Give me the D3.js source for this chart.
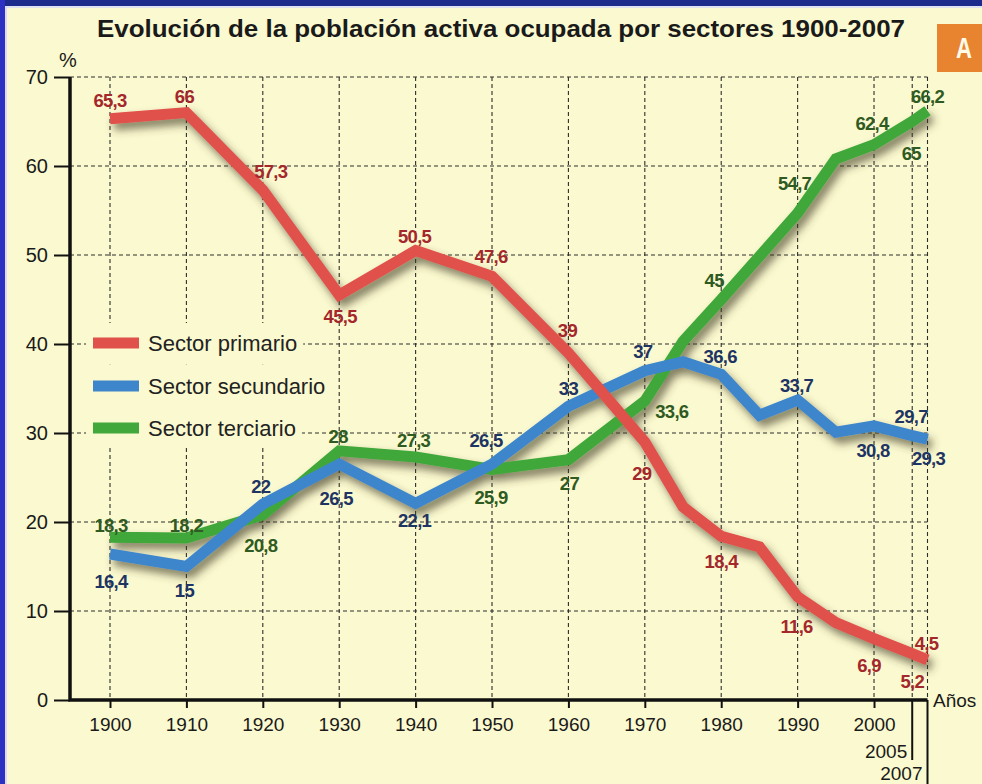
<!DOCTYPE html>
<html>
<head>
<meta charset="utf-8">
<script src="https://cdn.jsdelivr.net/npm/d3@7"></script>
<style>
  body { margin: 0; background: #fbf9cf; }
  svg { display: block; font-family: "Liberation Sans", Arial, sans-serif; }
</style>
</head>
<body>
<svg id="chart" width="982" height="784"></svg>
<script>
// data (null = no point drawn for that year)
const years      = [1900, 1910, 1920, 1930, 1940, 1950, 1960, 1970, 1975, 1980, 1985, 1990, 1995, 2000, 2005, 2007]
const primario   = [65.3, 66,   57.3, 45.5, 50.5, 47.6, 39,   29,   21.7, 18.4, 17.2, 11.6, 8.7,  6.9,  5.2,  4.5]
const secundario = [16.4, 15,   22,   26.5, 22.1, 26.5, 33,   37,   38,   36.6, 32,   33.7, 30.1, 30.8, 29.7, 29.3]
const terciario  = [18.3, 18.2, 20.8, 28,   27.3, 25.9, 27,   33.6, 40.3, 45,   null, 54.7, 60.8, 62.4, 65,   66.2]

const labelYears = [1900, 1910, 1920, 1930, 1940, 1950, 1960, 1970, 1980, 1990, 2000, 2005, 2007]
const decadeTicks = [1900, 1910, 1920, 1930, 1940, 1950, 1960, 1970, 1980, 1990, 2000]
const extraTicks = [2005, 2007]
const yTicks = [0, 10, 20, 30, 40, 50, 60, 70]

const seriesNames = ["Sector primario", "Sector secundario", "Sector terciario"]
const title = "Evolución de la población activa ocupada por sectores 1900-2007"

// label offsets (dx, dy to baseline) for each labelled year, per series
const offPrimario   = [[0,-12],[-2,-10],[8,-12],[1,28],[-1,-8],[-1,-13],[-1,-16],[-3,38],[0,32],[-1,36],[-5,33],[0,34],[-1,-10]]
const offSecundario = [[1,34],[-2,30],[-2,-11],[-3,41],[-1,24],[-6,-17],[0,-11],[-2,-13],[-1,-11],[-1,-8],[-1,31],[-1,-13],[1,26]]
const offTerciario  = [[1,-5],[0,-6],[-2,37],[-1,-8],[-2,-10],[-1,35],[1,30],[27,17],[-7,-13],[-3,-23],[-2,-15],[-1,38],[0,-8]]

const lineColors  = ["#e0514b", "#3d86cc", "#41a83b"]
const labelColors = ["#a3282c", "#1e3462", "#2f5b22"]

const W = 982, H = 784
const axisX = 70
const bg = "#fbf9cf"

const x = d3.scaleLinear().domain([1900, 2007]).range([110, 927.5])
const y = d3.scaleLinear().domain([0, 70]).range([700, 77])

const svg = d3.select("#chart")

const defs = svg.append("defs")
defs.append("filter")
  .attr("id", "shadow")
  .attr("filterUnits", "userSpaceOnUse")
  .attr("x", 0).attr("y", 0).attr("width", W).attr("height", H)
  .append("feDropShadow")
  .attr("dx", 4).attr("dy", 6)
  .attr("stdDeviation", 4)
  .attr("flood-color", "#3e3820")
  .attr("flood-opacity", 0.65)

svg.append("rect").attr("width", W).attr("height", H).attr("fill", bg)

// scan border
svg.append("rect").attr("width", W).attr("height", 6).attr("fill", "#1d2b8c")
svg.append("rect").attr("y", 6).attr("width", W).attr("height", 2).attr("fill", "#dfe2f2")
svg.append("rect").attr("width", 5).attr("height", H).attr("fill", "#2d32c2")
svg.append("rect").attr("x", 5).attr("y", 6).attr("width", 2).attr("height", H).attr("fill", "#dcdcf4")

// title and badge
svg.append("text")
  .attr("x", 97).attr("y", 37)
  .attr("textLength", 808).attr("lengthAdjust", "spacingAndGlyphs")
  .attr("font-size", 24).attr("font-weight", "bold").attr("fill", "#1a1a1a")
  .text(title)

svg.append("rect").attr("x", 937).attr("y", 24).attr("width", 45).attr("height", 48).attr("fill", "#e8832f")
svg.append("text")
  .attr("x", 964).attr("y", 58).attr("text-anchor", "middle")
  .attr("font-size", 30).attr("font-weight", "bold").attr("fill", "#fffbe8")
  .attr("textLength", 16).attr("lengthAdjust", "spacingAndGlyphs")
  .text("A")

// grid
const grid = svg.append("g")
  .attr("stroke", "#2e2e2e").attr("stroke-width", 1.1).attr("stroke-dasharray", "4 3")

grid.selectAll("line.h")
  .data(yTicks.filter(d => d > 0))
  .join("line")
  .attr("class", "h")
  .attr("x1", axisX).attr("x2", x(2007))
  .attr("y1", d => y(d)).attr("y2", d => y(d))

grid.selectAll("line.v")
  .data(decadeTicks.concat(extraTicks))
  .join("line")
  .attr("class", "v")
  .attr("x1", d => x(d)).attr("x2", d => x(d))
  .attr("y1", y(70)).attr("y2", y(0))

// legend (its own background hides the grid behind it)
const legendRows = [343, 386, 428]
const legend = svg.append("g")
seriesNames.forEach((name, i) => {
  const g = legend.append("g")
  const bgRect = g.append("rect").attr("fill", bg)
  const t = g.append("text")
    .attr("x", 148).attr("y", legendRows[i] + 8)
    .attr("font-size", 22).attr("fill", "#222")
    .text(name)
  const w = t.node().getComputedTextLength()
  const top = i === 0 ? 323 : (legendRows[i - 1] + legendRows[i]) / 2
  const bottom = i === 2 ? 446 : (legendRows[i] + legendRows[i + 1]) / 2
  bgRect.attr("x", 86).attr("y", top).attr("width", 148 + w + 6 - 86).attr("height", bottom - top)
  g.append("rect")
    .attr("x", 93).attr("y", legendRows[i] - 5.5)
    .attr("width", 46).attr("height", 11)
    .attr("fill", lineColors[i])
})

// series lines
const seriesValues = [primario, secundario, terciario]
const line = d3.line()
  .x(d => x(d[0]))
  .y(d => y(d[1]))

const lines = svg.append("g").attr("filter", "url(#shadow)")
// green at the bottom, red on top
;[2, 1, 0].forEach(i => {
  const pts = years.map((yr, j) => [yr, seriesValues[i][j]]).filter(d => d[1] !== null)
  lines.append("path")
    .datum(pts)
    .attr("d", line)
    .attr("fill", "none")
    .attr("stroke", lineColors[i])
    .attr("stroke-width", 11)
    .attr("stroke-linejoin", "miter")
    .attr("stroke-miterlimit", 3)
})

// value labels
const offsets = [offPrimario, offSecundario, offTerciario]
const fmt = v => String(v).replace(".", ",")
seriesValues.forEach((vals, i) => {
  const pts = labelYears.map((yr, k) => ({ yr, v: vals[years.indexOf(yr)], off: offsets[i][k] }))
  svg.append("g").selectAll("text")
    .data(pts)
    .join("text")
    .attr("x", d => x(d.yr) + d.off[0])
    .attr("y", d => y(d.v) + d.off[1])
    .attr("text-anchor", "middle")
    .attr("font-size", 18.5).attr("font-weight", "bold")
    .attr("letter-spacing", -0.7)
    .attr("fill", labelColors[i])
    .text(d => fmt(d.v))
})

// axes
const yAxis = svg.append("g")
  .attr("transform", `translate(${axisX},0)`)
  .call(d3.axisLeft(y).tickValues(yTicks).tickSize(16).tickPadding(6))
yAxis.select(".domain").remove()
yAxis.selectAll(".tick line").attr("stroke", "#111").attr("stroke-width", 2)
yAxis.selectAll(".tick text")
  .attr("font-family", "Liberation Sans, Arial, sans-serif")
  .attr("font-size", 20).attr("fill", "#1a1a1a")

const xAxis = svg.append("g")
  .attr("transform", `translate(0,${y(0)})`)
  .call(d3.axisBottom(x).tickValues(decadeTicks).tickFormat(d3.format("d")).tickSize(8).tickPadding(10))
xAxis.select(".domain").remove()
xAxis.selectAll(".tick line").attr("stroke", "#111").attr("stroke-width", 2)
xAxis.selectAll(".tick text")
  .attr("font-family", "Liberation Sans, Arial, sans-serif")
  .attr("font-size", 19).attr("fill", "#1a1a1a")

// 2005 / 2007 stepped labels
const extraBottoms = [760, 784]
const extraBaselines = [758, 780]
svg.append("g").selectAll("line")
  .data(extraTicks)
  .join("line")
  .attr("x1", d => x(d)).attr("x2", d => x(d))
  .attr("y1", y(0)).attr("y2", (d, i) => extraBottoms[i])
  .attr("stroke", "#111").attr("stroke-width", 2)
svg.append("g").selectAll("text")
  .data(extraTicks)
  .join("text")
  .attr("x", d => x(d) - 5)
  .attr("y", (d, i) => extraBaselines[i])
  .attr("text-anchor", "end")
  .attr("font-size", 19).attr("fill", "#1a1a1a")
  .text(d => d)

// axis lines
svg.append("path")
  .attr("d", `M${axisX},${y(70)}V${y(0)}H${x(2007)}`)
  .attr("fill", "none")
  .attr("stroke", "#111")
  .attr("stroke-width", 3.5)

svg.append("text")
  .attr("x", 68).attr("y", 67).attr("text-anchor", "middle")
  .attr("font-size", 20).attr("fill", "#1a1a1a")
  .text("%")

svg.append("text")
  .attr("x", 933).attr("y", 707)
  .attr("font-size", 19).attr("fill", "#1a1a1a")
  .text("Años")
</script>
</body>
</html>
